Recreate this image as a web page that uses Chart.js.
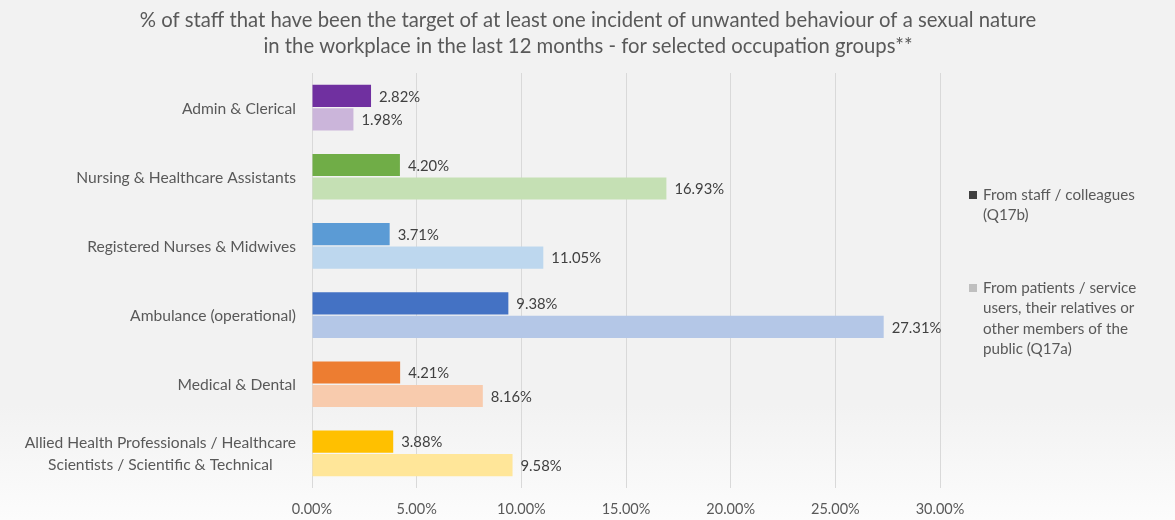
<!DOCTYPE html>
<html>
<head>
<meta charset="utf-8">
<script src="https://cdn.jsdelivr.net/npm/chart.js@4/dist/chart.umd.min.js"></script>
<style>
  html, body { margin: 0; padding: 0; }
  body { width: 1175px; height: 520px; background: linear-gradient(#f2f2f2 0%, #f2f2f2 78%, #fcfcfc 100%); }
  #wrap { position: relative; width: 1175px; height: 520px; }
</style>
</head>
<body>
<div id="wrap"><canvas id="chart"></canvas></div>
<script>
// Data ----------------------------------------------------------------------
var categories = [
  "Admin & Clerical",
  "Nursing & Healthcare Assistants",
  "Registered Nurses & Midwives",
  "Ambulance (operational)",
  "Medical & Dental",
  ["Allied Health Professionals / Healthcare", "Scientists / Scientific & Technical"]
];
var fromStaff   = [2.82, 4.20, 3.71, 9.38, 4.21, 3.88];   // Q17b
var fromPublic  = [1.98, 16.93, 11.05, 27.31, 8.16, 9.58]; // Q17a
var staffColors  = ["#7030a0", "#70ad47", "#5b9bd5", "#4472c4", "#ed7d31", "#ffc000"];
var publicColors = ["#cbb5da", "#c5e0b4", "#bdd7ee", "#b4c7e7", "#f8cbad", "#ffe699"];
var xMax = 30, xStep = 5;
var titleLines = [
  "% of staff that have been the target of at least one incident of unwanted behaviour of a sexual nature",
  "in the workplace in the last 12 months - for selected occupation groups**"
];
var legendItems = [
  { color: "#404040", lines: ["From staff / colleagues", "(Q17b)"] },
  { color: "#bfbfbf", lines: ["From patients / service", "users, their relatives or", "other members of the", "public (Q17a)"] }
];

// Theme ---------------------------------------------------------------------
var FONT = "Lato, 'Open Sans', sans-serif";
var GREY = "#595959";
Chart.defaults.font.family = FONT;
Chart.defaults.color = GREY;

function pct(v) { return Number(v).toFixed(2) + "%"; }

// title centred on the whole canvas (the built-in one centres on the plot)
var pageTitle = {
  id: "pageTitle",
  afterDraw: function (chart) {
    var ctx = chart.ctx;
    ctx.save();
    ctx.font = "20.3px " + FONT;
    ctx.fillStyle = GREY;
    ctx.textAlign = "center";
    ctx.textBaseline = "middle";
    titleLines.forEach(function (l, k) { ctx.fillText(l, 588, 20 + k * 26); });
    ctx.restore();
  }
};

// category labels: right edge at the axis, multi-line labels centred on each other
var categoryLabels = {
  id: "categoryLabels",
  afterDraw: function (chart) {
    var ctx = chart.ctx, y = chart.scales.y;
    ctx.save();
    ctx.font = "15.6px " + FONT;
    ctx.fillStyle = GREY;
    ctx.textAlign = "center";
    ctx.textBaseline = "middle";
    var right = chart.chartArea.left - 16, lh = 22;
    categories.forEach(function (c, i) {
      var lines = Array.isArray(c) ? c : [c];
      var w = Math.max.apply(null, lines.map(function (l) { return ctx.measureText(l).width; }));
      var cx = right - w / 2;
      var cy = y.getPixelForTick(i) + 1 - (lines.length - 1) * lh / 2;
      lines.forEach(function (l, k) { ctx.fillText(l, cx, cy + k * lh); });
    });
    ctx.restore();
  }
};

// value labels at the end of each bar
var valueLabels = {
  id: "valueLabels",
  afterDatasetsDraw: function (chart) {
    var ctx = chart.ctx;
    ctx.save();
    ctx.font = "14.8px " + FONT;
    ctx.fillStyle = "#404040";
    ctx.textAlign = "left";
    ctx.textBaseline = "middle";
    chart.data.datasets.forEach(function (ds, di) {
      chart.getDatasetMeta(di).data.forEach(function (bar, i) {
        ctx.fillText(pct(ds.data[i]), bar.x + 8, bar.y + 1);
      });
    });
    ctx.restore();
  }
};

// legend on the right, wrapped by hand
var sideLegend = {
  id: "sideLegend",
  afterDraw: function (chart) {
    var ctx = chart.ctx;
    ctx.save();
    ctx.font = "15.2px " + FONT;
    ctx.textBaseline = "middle";
    ctx.textAlign = "left";
    var tops = [195, 288];
    legendItems.forEach(function (item, i) {
      ctx.fillStyle = item.color;
      ctx.fillRect(969, tops[i] - 4, 8, 8);
      ctx.fillStyle = GREY;
      item.lines.forEach(function (l, k) { ctx.fillText(l, 983, tops[i] + k * 20.5); });
    });
    ctx.restore();
  }
};

new Chart(document.getElementById("chart"), {
  type: "bar",
  data: {
    labels: categories,
    datasets: [
      { label: legendItems[0].lines.join(" "), data: fromStaff, backgroundColor: staffColors },
      { label: legendItems[1].lines.join(" "), data: fromPublic, backgroundColor: publicColors }
    ]
  },
  options: {
    indexAxis: "y",
    responsive: true,
    maintainAspectRatio: false,
    animation: false,
    categoryPercentage: 0.68,
    barPercentage: 0.94,
    layout: { padding: { left: 0, right: 235, top: 73, bottom: 0 } },
    scales: {
      x: {
        min: 0, max: xMax,
        grid: { color: "#d9d9d9", drawTicks: false },
        border: { display: false },
        ticks: { stepSize: xStep, padding: 13, font: { size: 14.5 }, color: GREY, callback: pct },
        afterFit: function (s) { s.height = 32; }
      },
      y: {
        grid: { display: false },
        border: { display: false },
        ticks: { display: false },
        afterFit: function (s) { s.width = 312; }
      }
    },
    plugins: {
      legend: { display: false },
      tooltip: { enabled: false },
      title: { display: false }
    }
  },
  plugins: [pageTitle, categoryLabels, valueLabels, sideLegend]
});
</script>
</body>
</html>
